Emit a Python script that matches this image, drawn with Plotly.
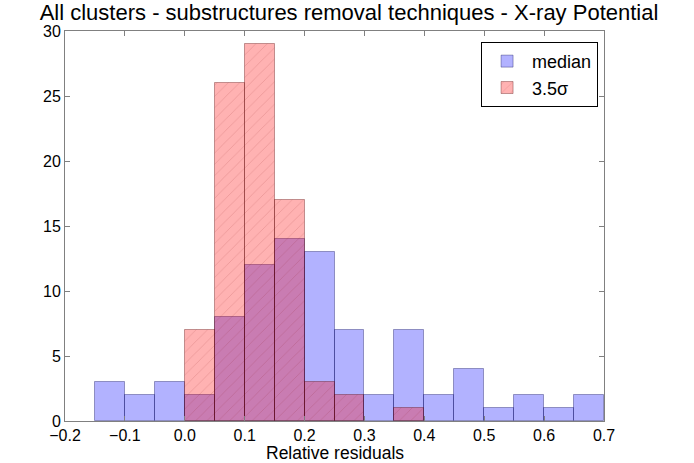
import plotly.graph_objects as go

# Histogram bins (left edges), width 0.05
bin_edges = [-0.15, -0.10, -0.05, 0.00, 0.05, 0.10, 0.15, 0.20, 0.25,
             0.30, 0.35, 0.40, 0.45, 0.50, 0.55, 0.60, 0.65]
bin_width = 0.05

median_counts = [3, 2, 3, 2, 8, 12, 14, 13, 7, 2, 7, 2, 4, 1, 2, 1, 2]
sigma_counts = [0, 0, 0, 7, 26, 29, 17, 3, 2, 0, 1, 0, 0, 0, 0, 0, 0]

x_ticks = [-0.2, -0.1, 0.0, 0.1, 0.2, 0.3, 0.4, 0.5, 0.6, 0.7]
x_tick_labels = ["\u22120.2", "\u22120.1", "0.0", "0.1", "0.2",
                 "0.3", "0.4", "0.5", "0.6", "0.7"]
y_ticks = [0, 5, 10, 15, 20, 25, 30]

FONT = "Liberation Sans, Arial"

fig = go.Figure()

fig.add_trace(go.Bar(
    x=bin_edges, y=median_counts, width=bin_width, offset=0,
    name="median",
    marker=dict(color="rgba(0,0,255,0.3)",
                line=dict(color="rgba(0,0,80,0.35)", width=1)),
))

fig.add_trace(go.Bar(
    x=[e for e, c in zip(bin_edges, sigma_counts) if c > 0],
    y=[c for c in sigma_counts if c > 0],
    width=bin_width, offset=0,
    name="3.5σ",
    marker=dict(color="rgba(255,0,0,0.3)",
                line=dict(color="rgba(80,0,0,0.35)", width=1),
                pattern=dict(shape="/", fgcolor="rgba(120,0,0,0.3)",
                             size=8, solidity=0.1, fillmode="overlay")),
))

axis_common = dict(
    showline=True, linecolor="#808080", linewidth=1, mirror="ticks",
    ticks="inside", ticklen=5, tickcolor="#808080",
    showgrid=False, zeroline=False, automargin=False,
    tickfont=dict(family=FONT, size=16, color="black"),
)

fig.update_layout(
    width=694, height=463,
    margin=dict(l=65, r=90, t=31, b=42),
    paper_bgcolor="white", plot_bgcolor="white",
    barmode="overlay", bargap=0,
    title=dict(text="All clusters - substructures removal techniques - X-ray Potential",
               x=349 / 694, xanchor="center",
               y=1 - 12 / 463, yanchor="middle",
               font=dict(family=FONT, size=22, color="black")),
    xaxis=dict(range=[-0.2, 0.7], tickvals=x_ticks, ticktext=x_tick_labels,
               **axis_common),
    yaxis=dict(range=[0, 30], tickvals=y_ticks, **axis_common),
    legend=dict(x=0.989, y=0.972, xanchor="right", yanchor="top",
                bordercolor="black", borderwidth=1, bgcolor="white",
                font=dict(family=FONT, size=18, color="black"),
                itemwidth=40, traceorder="normal",
                tracegroupgap=0),
    showlegend=True,
    annotations=[dict(text="Relative residuals", xref="paper", yref="paper",
                      x=0.5, y=-32 / 390, xanchor="center", yanchor="middle",
                      showarrow=False,
                      font=dict(family=FONT, size=17.5, color="black"))],
)

fig.write_html("out.html")
